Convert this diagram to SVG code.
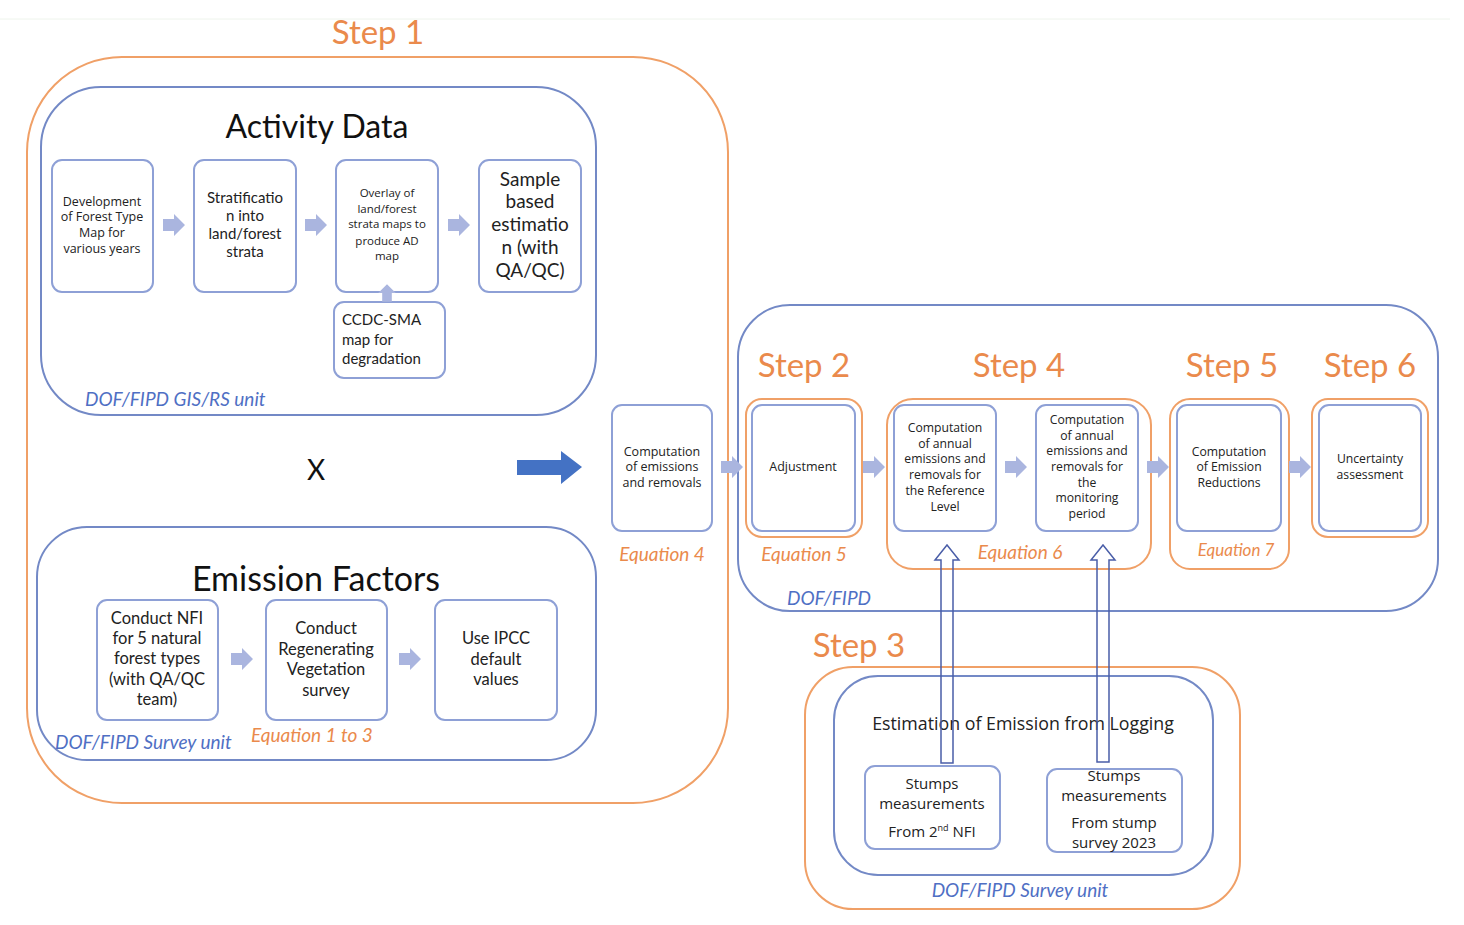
<svg xmlns="http://www.w3.org/2000/svg" xmlns:xlink="http://www.w3.org/1999/xlink" width="1464" height="925" viewBox="0 0 1464 925">
<style>
.bg{fill:#ffffff}
.step{fill:none;stroke:#f0a067;stroke-width:2}
.grp{fill:none;stroke:#7389c6;stroke-width:2}
.box{fill:#ffffff;stroke:#8ea0d6;stroke-width:2}
.sarr{fill:#aab5df}
.hol{fill:none;stroke:#4a5ea8;stroke-width:1.5}
.t{font-family:Lato,"Liberation Sans",sans-serif;fill:#222222;text-anchor:middle}
.s{font-family:"Open Sans","DejaVu Sans",sans-serif;fill:#222222;text-anchor:middle}
.title{font-family:Lato,"Liberation Sans",sans-serif;fill:#111111;text-anchor:middle;font-size:32px}
.stp{font-family:Lato,"Liberation Sans",sans-serif;fill:#ea8a4c;text-anchor:middle;font-size:33px}
.eq{font-family:Lato,"Liberation Sans",sans-serif;fill:#ea8a4c;font-style:italic;font-size:19px}
.unit{font-family:Lato,"Liberation Sans",sans-serif;fill:#4f6fc4;font-style:italic;font-size:19px}
</style>
<defs>
<path id="sa" d="M-11,-6 H0 V-11 L11,0 L0,11 V6 H-11 Z"/>
</defs>
<rect class="bg" x="0" y="0" width="1464" height="925"/>
<line x1="0" y1="19" x2="1450" y2="19" stroke="#eef4ec" stroke-width="1"/>

<g id="step1">
<rect class="step" x="27" y="57" width="701" height="746" rx="95" ry="95"/>
<text class="stp" x="378" y="44">Step 1</text>
</g>

<g id="activity-data">
<rect class="grp" x="41" y="87" width="555" height="328" rx="60" ry="60"/>
<text class="title" x="317" y="138">Activity Data</text>
<text class="unit" x="85" y="406">DOF/FIPD GIS/RS unit</text>
</g>

<g id="ad1">
<rect class="box" x="52" y="160" width="101" height="132" rx="10"/>
<text class="s" font-size="12.5"><tspan x="102" y="206">Development</tspan><tspan x="102" y="221">of Forest Type</tspan><tspan x="102" y="237">Map for</tspan><tspan x="102" y="253">various years</tspan></text>
</g>
<g id="ad2">
<rect class="box" x="194" y="160" width="102" height="132" rx="10"/>
<text class="t" font-size="15"><tspan x="245" y="203">Stratificatio</tspan><tspan x="245" y="221">n into</tspan><tspan x="245" y="239">land/forest</tspan><tspan x="245" y="257">strata</tspan></text>
</g>
<g id="ad3">
<rect class="box" x="336" y="160" width="102" height="132" rx="10"/>
<text class="s" font-size="11.5"><tspan x="387" y="197">Overlay of</tspan><tspan x="387" y="213">land/forest</tspan><tspan x="387" y="228">strata maps to</tspan><tspan x="387" y="245">produce AD</tspan><tspan x="387" y="260">map</tspan></text>
</g>
<g id="ad4">
<rect class="box" x="479" y="160" width="102" height="132" rx="10"/>
<text class="t" font-size="19"><tspan x="530" y="186">Sample</tspan><tspan x="530" y="208">based</tspan><tspan x="530" y="231">estimatio</tspan><tspan x="530" y="254">n (with</tspan><tspan x="530" y="277">QA/QC)</tspan></text>
</g>
<g id="ccdc">
<rect class="box" x="334" y="302" width="111" height="76" rx="10"/>
<text class="t" font-size="15" style="text-anchor:start"><tspan x="342" y="325">CCDC-SMA</tspan><tspan x="342" y="345">map for</tspan><tspan x="342" y="364">degradation</tspan></text>
</g>

<g id="emission-factors">
<rect class="grp" x="37" y="527" width="559" height="233" rx="50" ry="50"/>
<text class="title" x="316" y="591" style="font-size:34px">Emission Factors</text>
<text class="unit" x="55" y="749">DOF/FIPD Survey unit</text>
<text class="eq" x="251" y="742">Equation 1 to 3</text>
</g>
<g id="ef1">
<rect class="box" x="97" y="600" width="121" height="120" rx="10"/>
<text class="t" font-size="16.5"><tspan x="157" y="624">Conduct NFI</tspan><tspan x="157" y="644">for 5 natural</tspan><tspan x="157" y="664">forest types</tspan><tspan x="157" y="685">(with QA/QC</tspan><tspan x="157" y="705">team)</tspan></text>
</g>
<g id="ef2">
<rect class="box" x="266" y="600" width="121" height="120" rx="10"/>
<text class="t" font-size="16.5"><tspan x="326" y="634">Conduct</tspan><tspan x="326" y="655">Regenerating</tspan><tspan x="326" y="675">Vegetation</tspan><tspan x="326" y="696">survey</tspan></text>
</g>
<g id="ef3">
<rect class="box" x="435" y="600" width="122" height="120" rx="10"/>
<text class="t" font-size="16.5"><tspan x="496" y="644">Use IPCC</tspan><tspan x="496" y="665">default</tspan><tspan x="496" y="685">values</tspan></text>
</g>

<g id="multiply">
<text class="t" font-size="28" x="316" y="480" style="fill:#111">X</text>
</g>

<g id="computation">
<rect class="box" x="612" y="405" width="100" height="126" rx="10"/>
<text class="s" font-size="12.5"><tspan x="662" y="456">Computation</tspan><tspan x="662" y="471">of emissions</tspan><tspan x="662" y="487">and removals</tspan></text>
<text class="eq" x="662" y="561" text-anchor="middle">Equation 4</text>
</g>

<g id="dof-fipd">
<rect class="grp" x="738" y="305" width="700" height="306" rx="52" ry="52"/>
<text class="unit" x="787" y="605">DOF/FIPD</text>
</g>

<g id="step2">
<rect class="step" x="746" y="399" width="116" height="138" rx="16"/>
<text class="stp" x="804" y="377">Step 2</text>
<rect class="box" x="752" y="405" width="103" height="126" rx="10"/>
<text class="s" font-size="12.5" x="803" y="471">Adjustment</text>
<text class="eq" x="804" y="561" text-anchor="middle">Equation 5</text>
</g>

<g id="step4">
<rect class="step" x="887" y="399" width="264" height="170" rx="26"/>
<text class="stp" x="1019" y="377">Step 4</text>
<text class="eq" x="1020" y="559" text-anchor="middle">Equation 6</text>
</g>
<g id="rl">
<rect class="box" x="894" y="405" width="102" height="126" rx="10"/>
<text class="s" font-size="12.2"><tspan x="945" y="432">Computation</tspan><tspan x="945" y="448">of annual</tspan><tspan x="945" y="463">emissions and</tspan><tspan x="945" y="479">removals for</tspan><tspan x="945" y="495">the Reference</tspan><tspan x="945" y="511">Level</tspan></text>
</g>
<g id="mp">
<rect class="box" x="1036" y="405" width="102" height="126" rx="10"/>
<text class="s" font-size="12.2"><tspan x="1087" y="424">Computation</tspan><tspan x="1087" y="440">of annual</tspan><tspan x="1087" y="455">emissions and</tspan><tspan x="1087" y="471">removals for</tspan><tspan x="1087" y="487">the</tspan><tspan x="1087" y="502">monitoring</tspan><tspan x="1087" y="518">period</tspan></text>
</g>

<g id="step5">
<rect class="step" x="1170" y="399" width="119" height="170" rx="20"/>
<text class="stp" x="1232" y="377">Step 5</text>
<rect class="box" x="1177" y="405" width="104" height="126" rx="10"/>
<text class="s" font-size="12.2"><tspan x="1229" y="456">Computation</tspan><tspan x="1229" y="471">of Emission</tspan><tspan x="1229" y="487">Reductions</tspan></text>
<text class="eq" x="1236" y="556" text-anchor="middle" style="font-size:17px">Equation 7</text>
</g>

<g id="step6">
<rect class="step" x="1312" y="399" width="116" height="138" rx="16"/>
<text class="stp" x="1370" y="377">Step 6</text>
<rect class="box" x="1319" y="405" width="102" height="126" rx="10"/>
<text class="s" font-size="12.2"><tspan x="1370" y="463">Uncertainty</tspan><tspan x="1370" y="479">assessment</tspan></text>
</g>

<g id="step3">
<rect class="step" x="805" y="667" width="435" height="242" rx="48"/>
<text class="stp" x="859" y="657">Step 3</text>
<rect class="grp" x="834" y="676" width="379" height="199" rx="44"/>
<text class="s" font-size="17.8" x="1023" y="730">Estimation of Emission from Logging</text>
<text class="unit" x="1020" y="897" text-anchor="middle">DOF/FIPD Survey unit</text>
</g>
<g id="stumps-nfi">
<rect class="box" x="865" y="766" width="135" height="83" rx="10"/>
<text class="s" font-size="15"><tspan x="932" y="789">Stumps</tspan><tspan x="932" y="809">measurements</tspan><tspan x="932" y="837">From 2<tspan font-size="9" baseline-shift="super">nd</tspan> NFI</tspan></text>
</g>
<g id="stumps-survey">
<rect class="box" x="1047" y="769" width="135" height="83" rx="10"/>
<text class="s" font-size="15"><tspan x="1114" y="781">Stumps</tspan><tspan x="1114" y="801">measurements</tspan><tspan x="1114" y="828">From stump</tspan><tspan x="1114" y="848">survey 2023</tspan></text>
</g>

<g id="connectors">
<use xlink:href="#sa" class="sarr" transform="translate(174,225)"/>
<use xlink:href="#sa" class="sarr" transform="translate(316,225)"/>
<use xlink:href="#sa" class="sarr" transform="translate(459,225)"/>
<use xlink:href="#sa" class="sarr" transform="translate(387,293) rotate(-90) scale(0.8)"/>
<use xlink:href="#sa" class="sarr" transform="translate(242,659)"/>
<use xlink:href="#sa" class="sarr" transform="translate(410,659)"/>
<path d="M517,460 H561 V451 L582,467 L561,484 V475 H517 Z" fill="#4472c4"/>
<use xlink:href="#sa" class="sarr" transform="translate(732,467)"/>
<use xlink:href="#sa" class="sarr" transform="translate(874,467)"/>
<use xlink:href="#sa" class="sarr" transform="translate(1016,467)"/>
<use xlink:href="#sa" class="sarr" transform="translate(1158,467)"/>
<use xlink:href="#sa" class="sarr" transform="translate(1300,467)"/>
<path class="hol" d="M941,763 V560 H935 L947,545 L959,560 H953 V763 Z"/>
<path class="hol" d="M1097,762 V560 H1091 L1103,545 L1115,560 H1109 V762 Z"/>
</g>
</svg>
